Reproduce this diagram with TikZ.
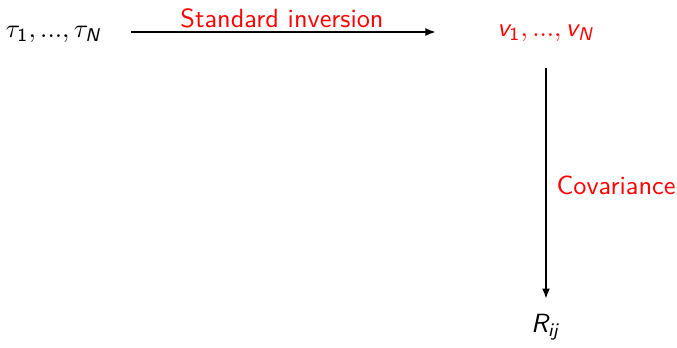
\documentclass[tikz,border=0pt]{standalone}
\usetikzlibrary{arrows.meta}
\DeclareMathAlphabet{\mathsfit}{OT1}{cmss}{m}{sl}
\DeclareMathAlphabet{\mathsfup}{OT1}{cmss}{m}{n}
\begin{document}
\begin{tikzpicture}[x=0.38pt,y=-0.38pt,
  lbl/.style={font=\sffamily, inner sep=0pt},
  redlbl/.style={lbl, text=red},
  conn/.style={-{Latex[length=4pt,width=3pt]}, line width=0.75pt}]
\useasboundingbox (0,0) rectangle (677,347);
\node[lbl] (tau) at (54,34) {$\tau_{\mathsfup{1}}, \mathsfup{...}, \tau_{\mathsfit{N}}$};
\node[redlbl] (v) at (546,33) {$\mathsfit{v}_{\mathsfup{1}}, \mathsfup{...}, \mathsfit{v}_{\mathsfit{N}}$};
\node[lbl] (R) at (546,327) {$\mathsfit{R}_{\mathsfit{ij}}$};
\coordinate (h1) at (131,32);
\coordinate (h2) at (436,32);
\draw[conn] (h1) -- (h2);
\draw[conn, shorten <=10pt, shorten >=5.5pt] (v.south) -- (R.north);
\node[redlbl] (si) at (282,18) {Standard inversion};
\node[redlbl, anchor=west] (cov) at (556,185) {Covariance};
\end{tikzpicture}
\end{document}
